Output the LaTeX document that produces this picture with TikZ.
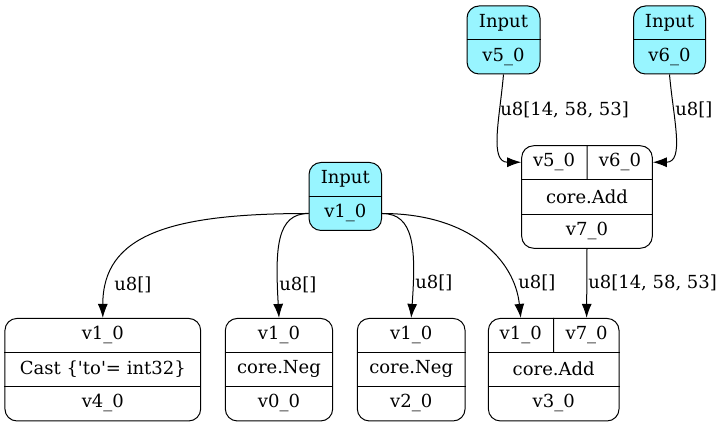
\documentclass[tikz,border=0pt]{standalone}
\usepackage{fontspec}
\setmainfont{DejaVu Serif}
\usetikzlibrary{arrows.meta,calc}
\definecolor{inputcyan}{HTML}{98F5FF}

\begin{document}
\begin{tikzpicture}[x=0.75pt,y=-0.75pt,font=\fontsize{13.5}{16}\selectfont]
    \tikzstyle{record} = [draw, rounded corners=9pt, line width=0.75pt, inner sep=0]
    \tikzstyle{input} = [record, fill=inputcyan, minimum height=51pt]
    \tikzstyle{op} = [record, minimum height=76.9pt]
    \tikzstyle{rule} = [line width=0.75pt]
    \tikzstyle{arrow} = [line width=0.75pt,->,>={Latex[length=10.5pt,width=7.5pt]}]
    \tikzstyle{lbl} = [anchor=west, inner sep=0]

    \useasboundingbox (0,0) rectangle (726,427);

    % input records
    \node[input, minimum width=54.75pt] (in5) at (503.5,40) {};
    \node[input, minimum width=54pt] (in6) at (669.5,40) {};
    \node[input, minimum width=54.4pt] (in1) at (345.3,196.5) {};
    \foreach \b/\v in {in5/v5,in6/v6,in1/v1} {
        \draw[rule] (\b.west) -- (\b.east);
        \node (\b-head) at ($(\b.north)+(0,17)$) {Input};
        \node (\b-out) at ($(\b.north)+(0,51)$) {\v\_0};
    }

    % op records
    \node[op, minimum width=98pt] (add7) at (587,197) {};
    \node[op, minimum width=146.8pt] (cast4) at (102.8,369.7) {};
    \node[op, minimum width=80.5pt] (neg0) at (279,369.7) {};
    \node[op, minimum width=80.8pt] (neg2) at (411.2,369.7) {};
    \node[op, minimum width=98pt] (add3) at (553.7,369.7) {};
    \foreach \b in {add7,cast4,neg0,neg2,add3} {
        \draw[rule] ($(\b.north west)!1/3!(\b.south west)$) -- ($(\b.north east)!1/3!(\b.south east)$);
        \draw[rule] ($(\b.north west)!2/3!(\b.south west)$) -- ($(\b.north east)!2/3!(\b.south east)$);
    }
    \foreach \b/\a/\f/\o in {cast4/v1/{Cast \{\textquotesingle to\textquotesingle= int32\}}/v4,
                             neg0/v1/core.Neg/v0, neg2/v1/core.Neg/v2} {
        \node (\b-in) at ($(\b.north)+(0,17)$) {\a\_0};
        \node (\b-op) at ($(\b.north)+(0,51.2)$) {\f};
        \node (\b-out) at ($(\b.north)+(0,85.4)$) {\o\_0};
    }
    \foreach \b/\a/\c/\o in {add7/v5/v6/v7, add3/v1/v7/v3} {
        \draw[rule] (\b.north) -- ($(\b.north)!1/3!(\b.south)$);
        \coordinate (\b-p1) at ($(\b.north west)!0.5!(\b.north)$);
        \coordinate (\b-p2) at ($(\b.north east)!0.5!(\b.north)$);
        \node (\b-in1) at ($(\b-p1)+(0,17)$) {\a\_0};
        \node (\b-in2) at ($(\b-p2)+(0,17)$) {\c\_0};
        \node (\b-op) at ($(\b.north)+(0,51.2)$) {core.Add};
        \node (\b-out) at ($(\b.north)+(0,85.4)$) {\o\_0};
    }

    % ports
    \coordinate (in1-w) at ($(in1.west)+(0,17)$);
    \coordinate (in1-e) at ($(in1.east)+(0,17)$);
    \coordinate (add7-w) at ($(add7.north west)+(0,17)$);
    \coordinate (add7-e) at ($(add7.north east)+(0,17)$);

    % edges
    \draw[arrow] (in5.south) .. controls +(-4,45) and +(-32,0) .. (add7-w);
    \draw[arrow] (in6.south) .. controls +(4,45) and +(32,0) .. (add7-e);
    \draw[arrow] (in1-w) .. controls +(-139,0) and +(0,-83) .. (cast4.north);
    \draw[arrow] (in1-w) .. controls +(-32,0) and +(-4,-70) .. (neg0.north);
    \draw[arrow] (in1-e) .. controls +(32,0) and +(5,-70) .. (neg2.north);
    \draw[arrow] (in1-e) .. controls +(88,0) and +(-6,-58) .. (add3-p1);
    \draw[arrow] (add7.south) -- (add3-p2);

    % edge labels
    \node[lbl] (l5) at (500,110) {u8[14, 58, 53]};
    \node[lbl] (l6) at (675,110) {u8[]};
    \node[lbl] (l4) at (114,285) {u8[]};
    \node[lbl] (l0) at (279,285) {u8[]};
    \node[lbl] (l2) at (415,283) {u8[]};
    \node[lbl] (l3) at (518,283) {u8[]};
    \node[lbl] (l7) at (588,283) {u8[14, 58, 53]};
\end{tikzpicture}
\end{document}
